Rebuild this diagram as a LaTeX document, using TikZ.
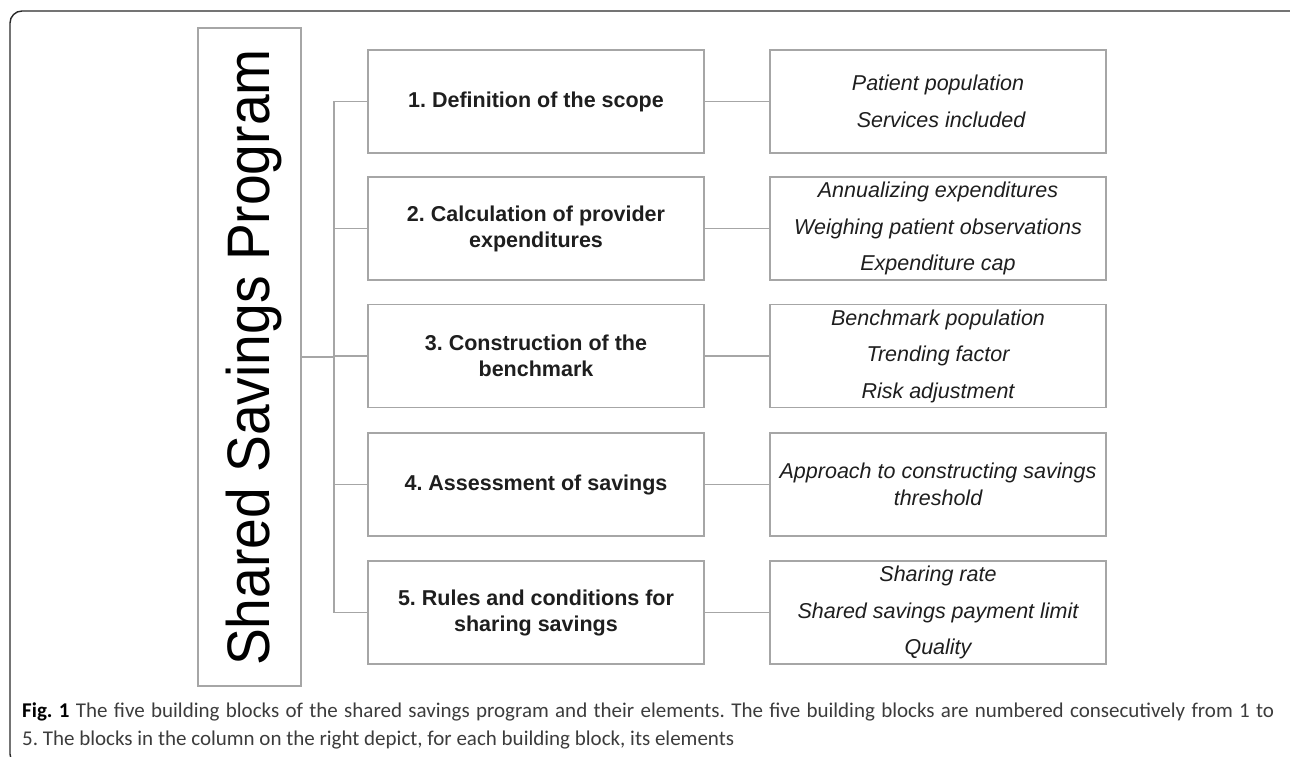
\documentclass[tikz,border=0pt]{standalone}
\usepackage{fontspec}
\setmainfont{Liberation Sans}
\newfontfamily\capfont{Carlito}
\definecolor{boxgray}{HTML}{A6A6A6}
\definecolor{textc}{HTML}{1E1E1E}
\definecolor{capc}{HTML}{3C3C3C}
\definecolor{framec}{HTML}{2A2A2A}
\tikzset{
  box/.style={draw=boxgray, line width=1.5pt, minimum width=336pt, minimum height=103pt, inner sep=0pt},
  mid/.style={font=\fontsize{21.5}{26}\selectfont\bfseries, align=center, text=textc},
  elem/.style={font=\fontsize{21.5}{36.5}\selectfont\itshape, align=center, text=textc},
  conn/.style={draw=boxgray, line width=1.5pt},
}
\begin{document}
\frenchspacing
\begin{tikzpicture}[x=1pt, y=-1pt]
\useasboundingbox (0,0) rectangle (1290,757);
\begin{scope}
  \clip (0,0) rectangle (1290,757);
  \draw[framec, line width=1.4pt, rounded corners=12pt] (10,11) rectangle (1302,766);
\end{scope}

% title
\node[draw=boxgray, line width=1.5pt, minimum width=103pt, minimum height=658pt, inner sep=0pt] (title) at (249.5,357) {};
\node[rotate=90, anchor=base, inner sep=0pt, text=black, font=\fontsize{60}{60}\selectfont] (titletext) at (269,357.5) {\scalebox{0.92}[1]{Shared Savings Program}};

% middle column
\node[box, mid] (b1) at (536,101.5) {1. Definition of the scope};
\node[box, mid] (b2) at (536,228.5) {2. Calculation of provider\\expenditures};
\node[box, mid] (b3) at (536,356) {3. Construction of the\\benchmark};
\node[box, mid] (b4) at (536,484.5) {4. Assessment of savings};
\node[box, mid] (b5) at (536,612.5) {5. Rules and conditions for\\sharing savings};

% right column
\node[box, elem] (e1) at (938,101.5) {Patient population\\\hspace*{6pt}Services included};
\node[box, elem] (e2) at (938,228.5) {Annualizing expenditures\\Weighing patient observations\\Expenditure cap};
\node[box, elem] (e3) at (938,356) {Benchmark population\\Trending factor\\Risk adjustment};
\node[box, elem, font=\fontsize{21.5}{27}\selectfont\itshape] (e4) at (938,484.5) {Approach to constructing savings\\threshold};
\node[box, elem] (e5) at (938,612.5) {Sharing rate\\Shared savings payment limit\\Quality};

% connectors
\coordinate (trunk) at (334,357);
\draw[conn] (title.east) -- (trunk);
\draw[conn] (b1.west -| trunk) -- (b5.west -| trunk);
\foreach \i in {1,...,5}{
  \draw[conn] (b\i.west) -- (b\i.west -| trunk);
  \draw[conn] (b\i.east) -- (e\i.west);
}

% caption
\node[anchor=north west, inner sep=0pt, text width=1252pt, align=justify, text=capc,
      font=\capfont\fontsize{21}{28}\selectfont] (cap) at (22,703)
  {{\color{black}\textbf{Fig. 1}} The five building blocks of the shared savings program and their elements. The five building blocks are numbered consecutively from 1 to\linebreak 5. The blocks in the column on the right depict, for each building block, its elements};
\end{tikzpicture}
\end{document}
